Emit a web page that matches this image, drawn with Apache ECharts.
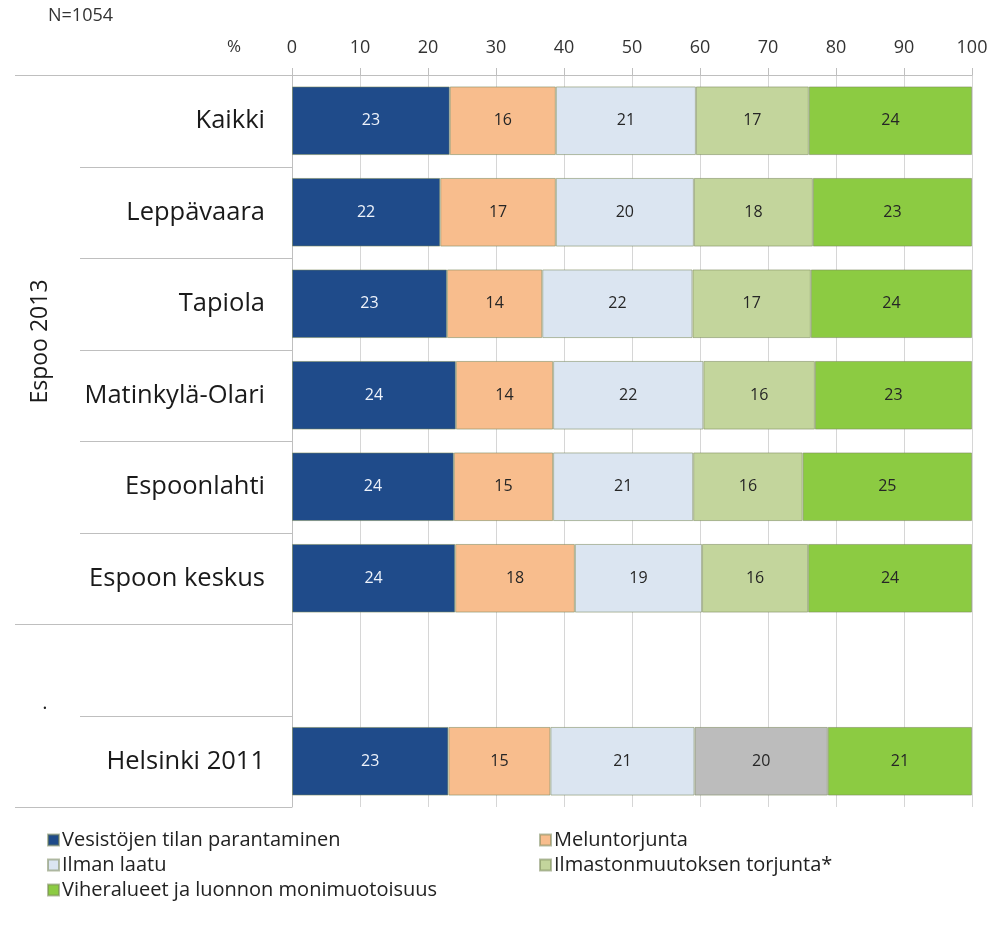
<!DOCTYPE html>
<html>
<head>
<meta charset="utf-8">
<script src="https://cdn.jsdelivr.net/npm/echarts@6/dist/echarts.min.js"></script>
<style>
html,body{margin:0;padding:0;background:#fff;}
#chart{width:992px;height:936px;}
</style>
</head>
<body>
<div id="chart"></div>
<script>
// ---- data ----
var categories = ['Kaikki', 'Leppävaara', 'Tapiola', 'Matinkylä-Olari', 'Espoonlahti', 'Espoon keskus', '', 'Helsinki 2011'];
var seriesNames = ['Vesistöjen tilan parantaminen', 'Meluntorjunta', 'Ilman laatu', 'Ilmastonmuutoksen torjunta*', 'Viheralueet ja luonnon monimuotoisuus'];
var vesistot = [23.2, 21.8, 22.8, 24.1, 23.8, 24.0, null, 23.0];
var melu     = [15.6, 17.0, 14.0, 14.3, 14.6, 17.6, null, 15.0];
var ilma     = [20.6, 20.3, 22.1, 22.1, 20.6, 18.7, null, 21.2];
var ilmasto  = [16.6, 17.5, 17.4, 16.4, 16.1, 15.6, null, 19.6];
var viher    = [24.0, 23.4, 23.7, 23.1, 24.9, 24.1, null, 21.2];
var xTicks = [0, 10, 20, 30, 40, 50, 60, 70, 80, 90, 100];
var groupLabel = 'Espoo 2013';
var sampleLabel = 'N=1054';
var unitLabel = '%';

var colors = ['#1f4b8a', '#f8bd8d', '#dbe5f1', '#c3d59c', '#8ccb42'];
var helsinkiColor = '#bcbcbc';
var helsinkiIndex = categories.indexOf('Helsinki 2011');

var chart = echarts.init(document.getElementById('chart'), null, {renderer: 'canvas'});
var FONT = "'Open Sans', 'DejaVu Sans', sans-serif";

function mkSeries(idx, arr) {
  var data = arr.map(function (v, i) {
    if (idx === 3 && i === helsinkiIndex) {
      return {value: v, itemStyle: {color: helsinkiColor}};
    }
    return v;
  });
  return {
    name: seriesNames[idx],
    type: 'bar',
    stack: 'all',
    barWidth: '75%',
    data: data,
    itemStyle: {color: colors[idx], borderColor: 'rgba(120,135,90,0.55)', borderWidth: 1},
    label: {
      show: true,
      position: 'inside',
      fontFamily: FONT,
      fontSize: 16,
      color: idx === 0 ? '#eef3fb' : '#262626',
      formatter: function (p) { return p.value == null ? '' : String(Math.round(p.value)); }
    },
    emphasis: {disabled: true},
    animation: false
  };
}

var option = {
  animation: false,
  grid: {left: 292, right: 20, top: 75, bottom: 129, containLabel: false},
  xAxis: {
    type: 'value',
    position: 'top',
    min: 0, max: 100, interval: 10,
    axisLine: {show: true, lineStyle: {color: '#bfbfbf', width: 1}},
    axisTick: {show: true, length: 7, lineStyle: {color: '#bfbfbf'}},
    axisLabel: {
      fontFamily: FONT, fontSize: 18, color: '#333', margin: 18,
      formatter: function (v) { return xTicks.indexOf(v) >= 0 ? String(v) : ''; }
    },
    splitLine: {show: true, lineStyle: {color: '#d6d6d6', width: 1}}
  },
  yAxis: {
    type: 'category',
    inverse: true,
    data: categories,
    axisLine: {show: true, lineStyle: {color: '#bfbfbf', width: 1}},
    axisTick: {show: false},
    axisLabel: {fontFamily: FONT, fontSize: 25.5, color: '#1a1a1a', margin: 27}
  },
  legend: [
    {
      left: 47, top: 830, orient: 'vertical', itemGap: 5, padding: 0,
      icon: 'rect', itemWidth: 11, itemHeight: 11,
      data: [seriesNames[0], seriesNames[2], seriesNames[4]],
      textStyle: {fontFamily: FONT, fontSize: 20, color: '#222', padding: [0, 0, 0, -2]},
      selectedMode: false
    },
    {
      left: 539, top: 830, orient: 'vertical', itemGap: 5, padding: 0,
      icon: 'rect', itemWidth: 11, itemHeight: 11,
      data: [seriesNames[1], seriesNames[3]],
      textStyle: {fontFamily: FONT, fontSize: 20, color: '#222', padding: [0, 0, 0, -2]},
      selectedMode: false
    }
  ],
  series: [
    mkSeries(0, vesistot),
    mkSeries(1, melu),
    mkSeries(2, ilma),
    mkSeries(3, ilmasto),
    mkSeries(4, viher)
  ]
};
chart.setOption(option);

// Multi-level category separators in the label area, derived from the axis scale
function drawDecor() {
  var x0 = chart.convertToPixel({xAxisIndex: 0}, 0);
  var c0 = chart.convertToPixel({yAxisIndex: 0}, 0);
  var c1 = chart.convertToPixel({yAxisIndex: 0}, 1);
  var band = c1 - c0;
  var lineStyle = {stroke: '#bfbfbf', lineWidth: 1};
  var els = [];
  var espooCount = categories.indexOf('');
  for (var b = 0; b <= categories.length; b++) {
    var y = Math.round(c0 - band / 2 + b * band) + 0.5;
    var full = (b === 0 || b === espooCount || b === categories.length);
    els.push({type: 'line', shape: {x1: full ? 15 : 80, y1: y, x2: x0, y2: y}, style: lineStyle, silent: true});
  }
  var espooMid = (c0 + chart.convertToPixel({yAxisIndex: 0}, espooCount - 1)) / 2;
  els.push({
    type: 'text', x: 40, y: espooMid - 8, rotation: Math.PI / 2,
    style: {text: groupLabel, fontFamily: FONT, fontSize: 23, fill: '#1a1a1a', align: 'center', verticalAlign: 'middle'},
    silent: true
  });
  var blankBottom = c0 - band / 2 + (espooCount + 1) * band;
  els.push({
    type: 'text', x: 45, y: blankBottom - 2,
    style: {text: '.', fontFamily: FONT, fontSize: 20, fill: '#222', align: 'center', verticalAlign: 'bottom'},
    silent: true
  });
  els.push({
    type: 'text', x: 234, y: 47,
    style: {text: unitLabel, fontFamily: FONT, fontSize: 17, fill: '#333', align: 'center', verticalAlign: 'middle'},
    silent: true
  });
  els.push({
    type: 'text', x: 48, y: 16,
    style: {text: sampleLabel, fontFamily: FONT, fontSize: 18, fill: '#333', align: 'left', verticalAlign: 'middle'},
    silent: true
  });
  chart.setOption({graphic: {elements: els}});
}
drawDecor();
</script>
</body>
</html>
